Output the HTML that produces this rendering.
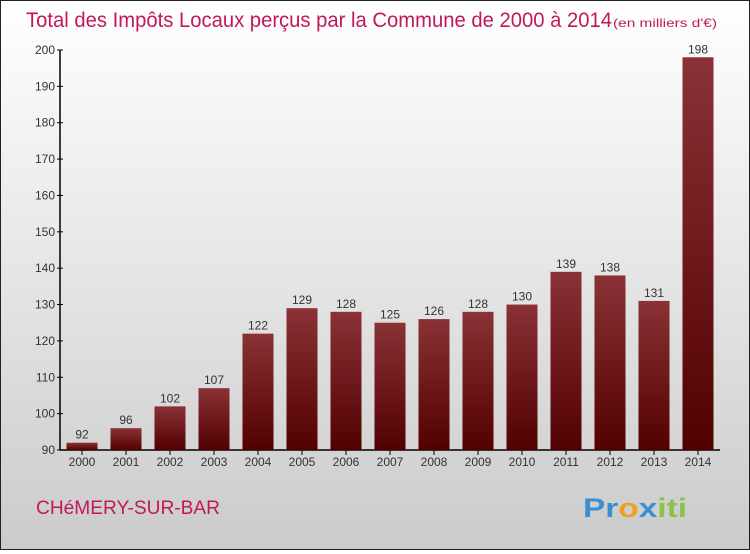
<!DOCTYPE html>
<html><head><meta charset="utf-8"><style>
html,body{margin:0;padding:0}
body{width:750px;height:550px;overflow:hidden;font-family:"Liberation Sans",sans-serif}
#wrap{position:absolute;left:0;top:0;width:748px;height:548px;border:1px solid #222;background:linear-gradient(#ffffff,#cbcbcb)}
</style></head><body>
<div id="wrap">
<svg width="748" height="548" viewBox="1 1 748 548" id="chart">
<defs><linearGradient id="bg" x1="0" y1="0" x2="0" y2="1"><stop offset="0" stop-color="#8a3236"/><stop offset="1" stop-color="#520000"/></linearGradient></defs>
<text x="26" y="27" font-size="21" fill="#c2185b" textLength="586" lengthAdjust="spacingAndGlyphs">Total des Impôts Locaux perçus par la Commune de 2000 à 2014</text>
<text x="613" y="27" font-size="12" fill="#c2185b" textLength="104" lengthAdjust="spacingAndGlyphs">(en milliers d'€)</text>
<text x="36" y="514" font-size="19" fill="#c2185b" textLength="184" lengthAdjust="spacingAndGlyphs">CHéMERY-SUR-BAR</text>
<text x="583" y="517" font-size="27" font-weight="bold" textLength="104" lengthAdjust="spacingAndGlyphs"><tspan fill="#3a8fd0">Pr</tspan><tspan fill="#f0a020">o</tspan><tspan fill="#3a8fd0">x</tspan><tspan fill="#8bc34a">iti</tspan></text>
<g id="axes"></g><g id="bars"></g>
</svg></div>
<script>
const years=["2000","2001","2002","2003","2004","2005","2006","2007","2008","2009","2010","2011","2012","2013","2014"];
const values=[92,96,102,107,122,129,128,125,126,128,130,139,138,131,198];
const ticks=[90,100,110,120,130,140,150,160,170,180,190,200];
const NS="http://www.w3.org/2000/svg";
const y=v=>450-(v-90)*400/110;
const x=i=>82+i*44;
function mk(t,a,p){const e=document.createElementNS(NS,t);for(const k in a)e.setAttribute(k,a[k]);p.appendChild(e);return e;}
const ax=document.getElementById('axes'),bs=document.getElementById('bars');
const yl=mk('line',{x1:60,y1:y(200),x2:60,y2:450,stroke:'#000','stroke-width':1.5},ax);


const xl=mk('line',{x1:60,y1:450,x2:720,y2:450,stroke:'#000','stroke-width':1.5},ax);


ticks.forEach(t=>{
 mk('line',{x1:57,y1:y(t),x2:63,y2:y(t),stroke:'#000'},ax);
 const tx=mk('text',{x:55,y:y(t)+4,'text-anchor':'end','font-size':12,fill:'#333'},ax);tx.textContent=t;
 
 
});
years.forEach((yr,i)=>{
 const v=values[i];
 const r=mk('rect',{x:x(i)-15.5,y:y(v),width:31,height:450-y(v),fill:'url(#bg)'},bs);
 
 
 const l=mk('text',{x:x(i),y:y(v)-4,'text-anchor':'middle','font-size':12,fill:'#333'},bs);l.textContent=v;
 
 
 mk('line',{x1:x(i),y1:450,x2:x(i),y2:455,stroke:'#000'},ax);
 const xt=mk('text',{x:x(i),y:466,'text-anchor':'middle','font-size':12,fill:'#333'},ax);xt.textContent=yr;
 
 
});
</script>
</body></html>
